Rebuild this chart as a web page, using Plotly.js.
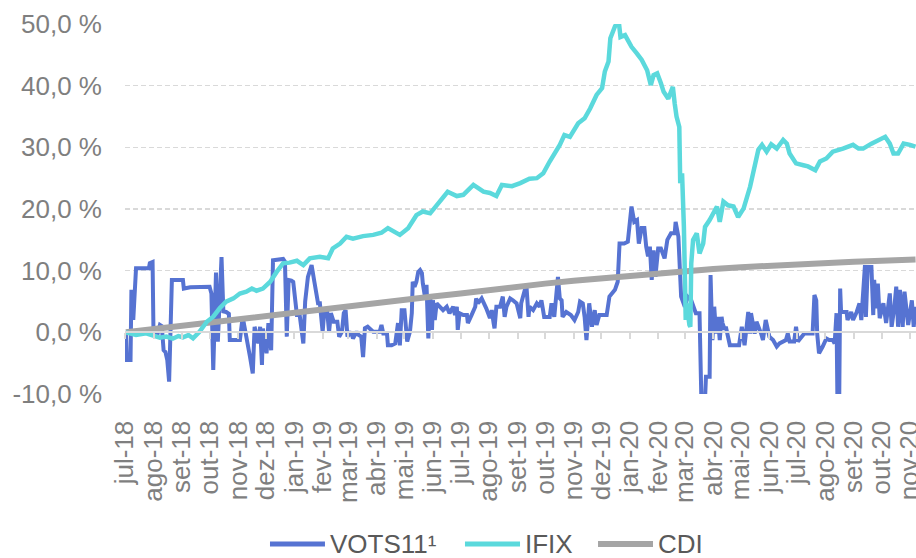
<!DOCTYPE html>
<html>
<head>
<meta charset="utf-8">
<script src="https://cdn.plot.ly/plotly-3.0.1.min.js"></script>
<style>
html,body{margin:0;padding:0;background:#ffffff;}
#chart{width:916px;height:558px;}
</style>
</head>
<body>
<div id="chart"></div>
<script>
const seriesNames = ['VOTS11\u00B9', 'IFIX', 'CDI'];
const seriesColors = ['#5673D2', '#5BD9DC', '#A5A5A5'];

const votsDates = [
'2018-07-02','2018-07-03','2018-07-07','2018-07-08','2018-07-10','2018-07-13','2018-07-27','2018-07-28','2018-07-31',
'2018-08-01','2018-08-05','2018-08-08','2018-08-10','2018-08-12','2018-08-14','2018-08-16','2018-08-18','2018-08-21',
'2018-09-02','2018-09-03','2018-09-10','2018-09-20','2018-10-01','2018-10-03','2018-10-05','2018-10-08','2018-10-10',
'2018-10-14','2018-10-16','2018-10-19','2018-10-22','2018-10-23','2018-11-03','2018-11-06','2018-11-10','2018-11-14',
'2018-11-17','2018-11-19','2018-11-23','2018-11-25','2018-11-27','2018-11-28','2018-12-02','2018-12-04','2018-12-07',
'2018-12-09','2018-12-20','2018-12-22','2018-12-24','2018-12-26','2018-12-29','2018-12-31',
'2019-01-04','2019-01-07','2019-01-11','2019-01-13','2019-01-16','2019-01-20','2019-01-23','2019-01-27','2019-01-29',
'2019-02-01','2019-02-03','2019-02-06','2019-02-08','2019-02-10','2019-02-13','2019-02-17','2019-02-19','2019-02-22',
'2019-02-24','2019-02-26','2019-02-28','2019-03-04','2019-03-06','2019-03-10','2019-03-12','2019-03-15','2019-03-17',
'2019-03-19','2019-03-22','2019-03-28','2019-04-04','2019-04-06','2019-04-08','2019-04-12','2019-04-13','2019-04-17',
'2019-04-21','2019-04-24','2019-04-26','2019-04-28','2019-05-01','2019-05-04','2019-05-07','2019-05-09','2019-05-10',
'2019-05-12','2019-05-14','2019-05-16','2019-05-18','2019-05-20','2019-05-21','2019-05-23','2019-05-25','2019-05-27',
'2019-05-29','2019-05-31','2019-06-01','2019-06-03','2019-06-05','2019-06-08','2019-06-12','2019-06-16','2019-06-19',
'2019-06-23','2019-06-25','2019-06-27','2019-06-28','2019-06-30','2019-07-04','2019-07-08','2019-07-09','2019-07-13',
'2019-07-17','2019-07-18','2019-07-20','2019-07-24','2019-07-28','2019-07-29','2019-08-02','2019-08-04','2019-08-06',
'2019-08-07','2019-08-09','2019-08-13','2019-08-16','2019-08-18','2019-08-20','2019-08-24','2019-08-27','2019-08-31',
'2019-09-04','2019-09-05','2019-09-09','2019-09-11','2019-09-13','2019-09-14','2019-09-18','2019-09-22','2019-09-25',
'2019-09-27','2019-09-30','2019-10-06','2019-10-08','2019-10-11','2019-10-15','2019-10-17','2019-10-19','2019-10-20',
'2019-10-24','2019-10-29','2019-11-02','2019-11-06','2019-11-08','2019-11-11','2019-11-13','2019-11-15','2019-11-18',
'2019-11-21','2019-11-24','2019-11-26','2019-11-29','2019-12-07','2019-12-10','2019-12-16','2019-12-19','2019-12-21',
'2019-12-26','2019-12-30','2020-01-03','2020-01-06','2020-01-09','2020-01-11','2020-01-14','2020-01-17','2020-01-19',
'2020-01-21','2020-01-23','2020-01-25','2020-01-27','2020-01-29','2020-02-01','2020-02-04','2020-02-08','2020-02-11',
'2020-02-15','2020-02-19','2020-02-20','2020-02-23','2020-02-26','2020-03-01','2020-03-04','2020-03-08','2020-03-13',
'2020-03-17','2020-03-19','2020-03-23','2020-03-24','2020-03-28','2020-03-29','2020-03-31','2020-04-02','2020-04-04',
'2020-04-06','2020-04-08','2020-04-10','2020-04-11','2020-04-13','2020-04-15','2020-04-19','2020-04-29','2020-05-02',
'2020-05-05','2020-05-09','2020-05-11','2020-05-12','2020-05-16','2020-05-18','2020-05-21','2020-05-23','2020-05-25',
'2020-05-28','2020-06-01','2020-06-05','2020-06-09','2020-06-12','2020-06-19','2020-06-21','2020-06-23','2020-06-28',
'2020-06-30','2020-07-02','2020-07-09','2020-07-18','2020-07-20','2020-07-22','2020-07-23','2020-07-25','2020-07-29',
'2020-08-02','2020-08-05','2020-08-09','2020-08-11','2020-08-13','2020-08-14','2020-08-16','2020-08-17','2020-08-18',
'2020-08-24','2020-08-25','2020-08-29','2020-08-31','2020-09-04','2020-09-07','2020-09-09','2020-09-11','2020-09-13',
'2020-09-14','2020-09-16','2020-09-20','2020-09-22','2020-09-23','2020-09-25','2020-09-27','2020-09-29','2020-10-03',
'2020-10-06','2020-10-10','2020-10-12','2020-10-15','2020-10-17','2020-10-19','2020-10-21','2020-10-24','2020-10-26',
'2020-10-30','2020-11-03','2020-11-05','2020-11-07'
];
const votsValues = [
0.0,-4.5,-4.5,6.9,2.0,10.4,10.4,11.2,11.4,
-0.2,-0.5,1.2,1.0,-2.9,-3.2,-4.5,-8.0,8.5,
8.5,7.1,7.3,7.4,7.4,6.3,-6.1,9.7,-1.5,
12.2,3.4,3.3,3.0,-1.25,-1.25,2.5,-1.25,-4.0,
-6.65,0.9,-1.8,0.9,-5.3,0.6,-3.4,1.5,-2.9,
11.7,11.9,11.45,-0.7,8.5,8.4,8.2,
2.8,2.8,-1.8,5.0,9.0,10.9,8.2,4.7,4.7,
0.1,3.8,3.3,0.1,3.1,1.7,1.7,-0.7,0.1,
3.1,3.6,-0.7,0.1,-1.0,0.1,-0.4,-0.7,-4.0,
0.65,0.9,0.1,0.1,1.2,-0.2,-0.2,-2.1,-2.1,
-1.8,1.5,-2.1,3.6,3.6,-1.5,0.1,3.1,8.2,
7.4,8.2,9.8,10.1,9.6,7.9,6.05,7.7,-1.0,
5.8,0.4,5.2,2.0,4.7,4.15,3.6,4.15,3.1,
4.15,2.8,4.15,0.4,3.1,2.8,2.8,1.5,2.8,
4.15,5.5,4.7,5.5,4.4,3.9,2.3,3.6,1.5,
0.65,4.15,4.15,5.8,2.5,4.15,5.5,5.2,4.7,
2.3,4.7,6.9,6.9,2.5,4.15,3.6,4.7,4.15,
5.2,2.5,2.5,4.7,2.5,9.0,5.5,5.2,2.5,
3.3,2.8,2.0,3.3,5.0,4.7,2.5,-1.25,4.7,
0.9,3.6,1.2,2.8,2.8,5.8,6.9,8.2,14.4,
14.4,14.7,20.4,17.9,18.2,14.4,16.9,16.9,13.9,
12.3,13.9,8.5,13.3,9.0,13.6,13.6,12.0,15.0,
16.05,16.05,17.9,15.5,5.8,4.15,5.8,5.2,3.1,
3.1,-10.8,-10.8,-7.2,-7.2,9.3,-1.25,4.15,-0.2,
2.5,-1.25,2.5,1.5,0.65,0.65,-2.1,-2.1,0.9,
-2.1,3.3,-0.2,3.1,-0.2,1.7,0.65,-0.2,-1.25,
2.0,-0.7,-1.25,-2.3,-1.8,-1.25,-0.2,-1.5,-1.5,
0.9,-1.5,-0.2,-0.2,6.05,5.2,-0.2,-3.4,-2.3,
-1.0,-1.25,-1.25,-1.8,3.1,-10.8,-10.8,7.1,3.3,
3.3,2.0,3.3,2.0,3.3,4.7,2.0,6.05,10.9,
2.5,10.6,10.6,2.8,8.5,3.9,7.9,2.3,4.7,
1.5,6.3,0.9,4.15,7.4,0.9,6.9,0.9,6.6,
1.2,5.2,0.9,4.15
];

const ifixDates = [
'2018-07-02','2018-07-13','2018-07-24','2018-07-31','2018-08-08','2018-08-15','2018-08-22','2018-08-28','2018-09-02',
'2018-09-08','2018-09-13','2018-09-20','2018-09-28','2018-10-05','2018-10-12','2018-10-19','2018-10-27','2018-11-03',
'2018-11-10','2018-11-16','2018-11-21','2018-11-28','2018-12-06','2018-12-13','2018-12-20','2018-12-27','2019-01-04',
'2019-01-11','2019-01-18','2019-01-29','2019-02-07','2019-02-12','2019-02-20','2019-02-27','2019-03-06','2019-03-17',
'2019-03-28','2019-04-06','2019-04-13','2019-04-26','2019-05-05','2019-05-14','2019-05-21','2019-05-29','2019-06-07',
'2019-06-17','2019-06-27','2019-07-04','2019-07-15','2019-07-26','2019-08-02','2019-08-09','2019-08-15','2019-08-26',
'2019-09-04','2019-09-14','2019-09-22','2019-09-29','2019-10-06','2019-10-12','2019-10-17','2019-10-22','2019-10-28',
'2019-11-06','2019-11-13','2019-11-19','2019-11-26','2019-12-02','2019-12-05','2019-12-09','2019-12-11','2019-12-16',
'2019-12-20','2019-12-22','2019-12-27','2019-12-30','2020-01-03','2020-01-09','2020-01-14','2020-01-20','2020-01-24',
'2020-01-27','2020-01-31','2020-02-04','2020-02-07','2020-02-12','2020-02-17','2020-02-19','2020-02-21','2020-02-24',
'2020-02-25','2020-02-27','2020-02-29','2020-03-02','2020-03-03','2020-03-06','2020-03-07','2020-03-08','2020-03-10',
'2020-03-14','2020-03-17','2020-03-21','2020-03-23','2020-03-28','2020-03-31','2020-04-05','2020-04-08','2020-04-12',
'2020-04-17','2020-04-23','2020-04-28','2020-05-04','2020-05-11','2020-05-16','2020-05-20','2020-05-24','2020-05-29',
'2020-06-03','2020-06-09','2020-06-16','2020-06-20','2020-06-23','2020-06-30','2020-07-08','2020-07-13','2020-07-21',
'2020-07-26','2020-08-02','2020-08-09','2020-08-20','2020-08-31','2020-09-06','2020-09-11','2020-09-20','2020-09-27',
'2020-10-05','2020-10-10','2020-10-14','2020-10-19','2020-10-25','2020-11-01','2020-11-07'
];
const ifixValues = [
0.0,-0.44,-0.16,-0.44,-0.87,-0.7,-1.03,-0.6,-0.8,
-0.44,-0.98,0.1,1.72,2.53,3.9,4.96,5.5,6.3,
6.6,7.1,6.75,7.1,8.2,9.8,11.2,11.3,11.6,
10.9,12.0,12.26,12.0,13.6,14.4,15.5,15.2,15.6,
15.8,16.15,16.9,15.8,16.9,19.0,19.6,19.3,20.9,
22.8,22.1,22.3,23.9,22.8,22.6,22.1,23.9,23.7,
24.2,24.9,25.0,25.8,27.7,29.0,30.4,32.0,31.7,
33.9,34.7,36.3,38.5,39.6,42.3,43.9,47.7,49.6,
50.6,47.9,48.2,47.4,46.3,45.2,44.2,42.5,40.1,
41.7,42.0,40.4,39.0,37.9,39.8,37.1,35.0,33.3,
24.2,25.8,17.1,2.0,4.7,1.2,0.9,11.2,15.0,
16.05,12.8,14.4,17.1,18.2,19.0,20.4,17.9,21.2,
20.6,20.4,18.7,20.1,23.6,26.9,29.6,30.4,29.3,
30.5,29.8,31.2,30.6,29.0,27.4,27.1,26.9,26.3,
27.7,28.2,29.3,29.8,30.4,29.8,29.8,30.6,31.2,
31.7,30.6,29.0,29.0,30.6,30.4,30.1
];

const cdiDates = [
'2018-07-02','2018-08-01','2018-09-01','2018-10-01','2018-11-01','2018-12-01','2019-01-01','2019-02-01','2019-03-01',
'2019-04-01','2019-05-01','2019-06-01','2019-07-01','2019-08-01','2019-09-01','2019-10-01','2019-11-01','2019-12-01',
'2020-01-01','2020-02-01','2020-03-01','2020-04-01','2020-05-01','2020-06-01','2020-07-01','2020-08-01','2020-09-01',
'2020-10-01','2020-11-01','2020-11-07'
];
const cdiValues = [
0.0,0.54,1.12,1.60,2.15,2.65,3.15,3.70,4.20,
4.72,5.25,5.80,6.30,6.88,7.40,7.90,8.35,8.77,
9.20,9.56,9.90,10.26,10.56,10.84,11.08,11.28,11.45,
11.62,11.78,11.82
];

const monthTicks = [
'2018-07-01','2018-08-01','2018-09-01','2018-10-01','2018-11-01','2018-12-01','2019-01-01','2019-02-01','2019-03-01',
'2019-04-01','2019-05-01','2019-06-01','2019-07-01','2019-08-01','2019-09-01','2019-10-01','2019-11-01','2019-12-01',
'2020-01-01','2020-02-01','2020-03-01','2020-04-01','2020-05-01','2020-06-01','2020-07-01','2020-08-01','2020-09-01',
'2020-10-01','2020-11-01'
];
const monthLabels = [
'jul-18','ago-18','set-18','out-18','nov-18','dez-18','jan-19','fev-19','mar-19',
'abr-19','mai-19','jun-19','jul-19','ago-19','set-19','out-19','nov-19','dez-19',
'jan-20','fev-20','mar-20','abr-20','mai-20','jun-20','jul-20','ago-20','set-20',
'out-20','nov-20'
];
const yTickValues = [-10, 0, 10, 20, 30, 40, 50];
const yTickLabels = ['-10,0 %', '0,0 %', '10,0 %', '20,0 %', '30,0 %', '40,0 %', '50,0 %'];

const FONT = 'Liberation Sans, Arial, sans-serif';

const traces = [
  {x: votsDates, y: votsValues, name: seriesNames[0], type: 'scatter', mode: 'lines',
   line: {color: seriesColors[0], width: 4}},
  {x: cdiDates, y: cdiValues, name: seriesNames[2], type: 'scatter', mode: 'lines',
   line: {color: seriesColors[2], width: 6}},
  {x: ifixDates, y: ifixValues, name: seriesNames[1], type: 'scatter', mode: 'lines',
   line: {color: seriesColors[1], width: 4.5}}
];

// manual legend (line samples + labels), in paper coordinates
const legendY = -0.4054;
const legendItems = [
  {name: seriesNames[0], color: seriesColors[0], width: 5, x0: 0.1833, x1: 0.2528, tx: 0.2566},
  {name: seriesNames[1], color: seriesColors[1], width: 5, x0: 0.4298, x1: 0.4994, tx: 0.5032},
  {name: seriesNames[2], color: seriesColors[2], width: 6, x0: 0.5980, x1: 0.6675, tx: 0.6713}
];
const shapes = legendItems.map(it => ({
  type: 'line', xref: 'paper', yref: 'paper', x0: it.x0, x1: it.x1, y0: legendY, y1: legendY,
  line: {color: it.color, width: it.width}
}));
const annotations = legendItems.map(it => ({
  xref: 'paper', yref: 'paper', x: it.tx, y: legendY, xanchor: 'left', yanchor: 'middle',
  text: it.name, showarrow: false, font: {family: FONT, size: 26, color: '#595959'}
}));

const layout = {
  width: 916, height: 558,
  margin: {l: 125, r: 0, t: 24, b: 164, pad: 0},
  paper_bgcolor: '#ffffff', plot_bgcolor: '#ffffff',
  showlegend: false,
  font: {family: FONT, size: 26, color: '#7F7F7F'},
  xaxis: {
    type: 'date', range: ['2018-07-01', '2020-11-07 12:00'],
    anchor: 'free', position: 1/6,
    tickmode: 'array', tickvals: monthTicks, ticktext: monthLabels, tickangle: -90,
    ticks: 'outside', ticklen: 6, tickwidth: 2, tickcolor: '#D9D9D9',
    showline: true, linecolor: '#D9D9D9', linewidth: 2,
    showgrid: false, zeroline: false, automargin: false,
    ticklabelstandoff: 71, ticklabeloverflow: 'allow',
    tickfont: {family: FONT, size: 26, color: '#7F7F7F'}
  },
  yaxis: {
    range: [-10, 50], tickmode: 'array', tickvals: yTickValues, ticktext: yTickLabels,
    showgrid: true, gridcolor: '#D9D9D9', gridwidth: 1.5, griddash: '5px,3px',
    zeroline: false, showline: false, ticks: '', automargin: false,
    ticklabelstandoff: 22, ticklabeloverflow: 'allow',
    tickfont: {family: FONT, size: 26, color: '#7F7F7F'}
  },
  shapes: shapes,
  annotations: annotations
};

Plotly.newPlot('chart', traces, layout, {displayModeBar: false, staticPlot: true});
</script>
</body>
</html>
